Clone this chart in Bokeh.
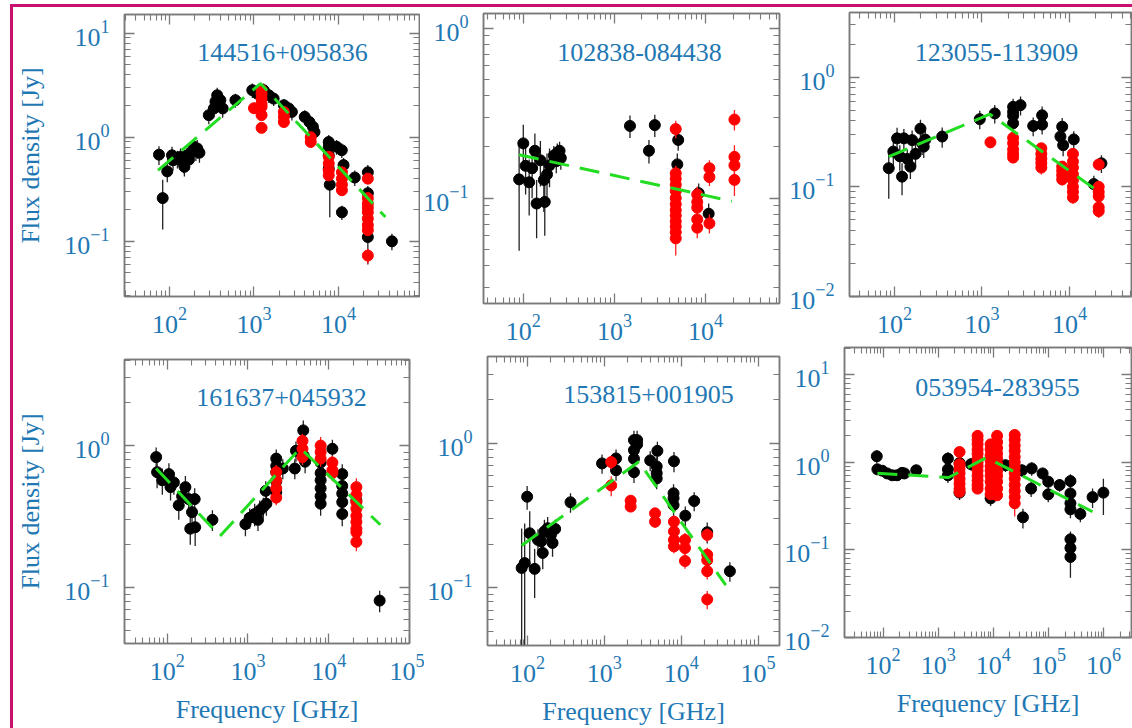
from bokeh.plotting import figure
from bokeh.models import LogAxis, FixedTicker, Label, Spacer, Range1d
from bokeh.layouts import row, column
from bokeh.embed import file_html
from bokeh.resources import INLINE

BLUE = "#1f78b4"
PINK = "#c8106e"
GREEN = "#22dd22"
FRAME = "#7a7a7a"
FONT = "Liberation Serif"

# ---------------- tick values ----------------
MAJOR_TICKS = [1e-2, 1e-1, 1e0, 1e1, 1e2, 1e3, 1e4, 1e5, 1e6, 1e7]
DECADES = [1e-3, 1e-2, 1e-1, 1e0, 1e1, 1e2, 1e3, 1e4, 1e5, 1e6]
MINOR_MULT = [2, 3, 4, 5, 6, 7, 8, 9]
MINOR_TICKS = [m * d for d in DECADES for m in MINOR_MULT]

# ---------------- panel names ----------------
names = ["144516+095836", "102838-084438", "123055-113909",
         "161637+045932", "153815+001905", "053954-283955"]

# ---------------- panel 1 ----------------
p1_bk_f = [75, 83, 94, 107, 110, 124, 135, 147, 150, 161, 170, 177, 195, 205, 213, 226,
           292, 335, 350, 367, 400, 426, 603, 955, 1090, 1300, 1500, 1710, 2260, 2580, 2810,
           3990, 4540, 4990, 5200, 7680, 7680, 7680, 7680, 7900, 9500, 10960, 11500, 11000,
           15600, 22300, 22300, 22300, 43000]
p1_bk_s = [0.68, 0.26, 0.47, 0.67, 0.60, 0.62, 0.65, 0.56, 0.52, 0.67, 0.61, 0.70, 0.81, 0.74, 0.78, 0.71,
           1.63, 1.89, 2.2, 2.53, 2.27, 1.89, 2.27, 2.83, 2.63, 2.83, 2.53, 2.35, 2.03, 1.89, 1.75,
           1.57, 1.40, 1.26, 1.12, 0.90, 0.81, 0.67, 0.50, 0.35, 0.81, 0.75, 0.54, 0.19,
           0.41, 0.46, 0.29, 0.11, 0.10]
p1_bk_e = [0.14, 0.13, 0.1, 0.14, 0.12, 0.12, 0.13, 0.11, 0.1, 0.13, 0.12, 0.14, 0.16, 0.15, 0.16, 0.14,
           0.3, 0.35, 0.4, 0.45, 0.4, 0.35, 0.35, 0.45, 0.4, 0.45, 0.4, 0.35, 0.3, 0.3, 0.3,
           0.25, 0.22, 0.2, 0.18, 0.15, 0.13, 0.11, 0.08, 0.18, 0.13, 0.12, 0.09, 0.03,
           0.07, 0.08, 0.05, 0.05, 0.018]
p1_rd_f = [1230, 1230, 1230, 1230, 1230, 1230, 1230, 1000, 2260, 2260, 2260, 4700, 4700,
           7680, 7680, 7680, 7680, 11000, 11000, 11000, 11000,
           22300, 22300, 22300, 22300, 22300, 22300, 22300, 22300, 22300]
p1_rd_s = [2.83, 2.6, 2.35, 2.1, 1.96, 1.63, 1.23, 1.9, 1.75, 1.57, 1.40, 1.0, 0.9,
           0.65, 0.56, 0.48, 0.43, 0.46, 0.40, 0.35, 0.31,
           0.40, 0.26, 0.23, 0.21, 0.19, 0.165, 0.143, 0.128, 0.073]
p1_rd_e = [0.3, 0.3, 0.25, 0.25, 0.2, 0.18, 0.13, 0.2, 0.18, 0.17, 0.15, 0.11, 0.1,
           0.07, 0.06, 0.05, 0.05, 0.05, 0.045, 0.04, 0.035,
           0.045, 0.03, 0.025, 0.023, 0.02, 0.018, 0.016, 0.014, 0.012]
p1_fit_f = [73, 1195, 36000]
p1_fit_s = [0.48, 3.28, 0.171]

# ---------------- panel 2 ----------------
p2_bk_f = [90, 100, 106, 116, 125, 134, 140, 154, 168, 172, 182, 194, 216, 230, 236, 250, 258,
           1480, 2770, 2390, 5000, 4890, 8400, 10800]
p2_bk_s = [0.129, 0.21, 0.155, 0.124, 0.15, 0.19, 0.093, 0.167, 0.128, 0.095, 0.138, 0.156,
           0.178, 0.165, 0.185, 0.19, 0.172, 0.266, 0.269, 0.19, 0.22, 0.158, 0.107, 0.081]
p2_bk_e = [0.08, 0.06, 0.05, 0.045, 0.05, 0.05, 0.035, 0.05, 0.045, 0.035, 0.045, 0.04,
           0.025, 0.025, 0.025, 0.025, 0.025, 0.04, 0.04, 0.03, 0.03, 0.025, 0.015, 0.012]
p2_rd_f = [4700, 4700, 4700, 4700, 4700, 4700, 4700, 4700, 4700, 4700, 4700, 4700, 4700,
           8090, 8090, 8090, 8090, 8090,
           11000, 11000, 11000,
           20700, 20700, 20700, 20700]
p2_rd_s = [0.255, 0.14, 0.13, 0.12, 0.11, 0.10, 0.092, 0.085, 0.079, 0.073, 0.068, 0.063, 0.058,
           0.105, 0.095, 0.088, 0.075, 0.067,
           0.15, 0.133, 0.071,
           0.29, 0.175, 0.156, 0.128]
p2_rd_e = [0.03, 0.015, 0.014, 0.013, 0.012, 0.011, 0.01, 0.009, 0.009, 0.008, 0.008, 0.008, 0.012,
           0.012, 0.011, 0.01, 0.009, 0.009,
           0.017, 0.015, 0.009,
           0.04, 0.03, 0.025, 0.025]
p2_fit_f = [90, 19400]
p2_fit_s = [0.18, 0.096]

# ---------------- panel 3 ----------------
p3_bk_f = [86, 97, 107, 115, 122, 128, 140, 152, 159, 174, 198, 207, 216, 225, 351, 944, 1400,
           2270, 2270, 2270, 2270, 2760, 3850, 4870, 4870, 8260, 7890, 8470, 11200, 19000, 23200]
p3_bk_s = [0.148, 0.21, 0.277, 0.19, 0.124, 0.277, 0.18, 0.153, 0.267, 0.20, 0.34, 0.25, 0.233,
           0.27, 0.288, 0.415, 0.468, 0.537, 0.484, 0.445, 0.38, 0.557, 0.36, 0.45, 0.37, 0.354,
           0.288, 0.24, 0.271, 0.106, 0.164]
p3_bk_e = [0.07, 0.06, 0.07, 0.05, 0.04, 0.06, 0.04, 0.035, 0.06, 0.045, 0.07, 0.055, 0.05,
           0.06, 0.06, 0.08, 0.09, 0.1, 0.09, 0.09, 0.07, 0.11, 0.07, 0.09, 0.07, 0.07,
           0.05, 0.05, 0.05, 0.02, 0.03]
p3_rd_f = [1250,
           2270, 2270, 2270, 2270, 2270,
           4770, 4770, 4770, 4770, 4770,
           8260, 8260, 8260, 8260,
           10960, 10960, 10960, 10960, 10960, 10960, 10960, 10960,
           21600, 21600, 21600, 21600, 21600, 21600]
p3_rd_s = [0.255,
           0.28, 0.25, 0.22, 0.20, 0.185,
           0.225, 0.20, 0.18, 0.165, 0.15,
           0.153, 0.14, 0.128, 0.117,
           0.20, 0.17, 0.15, 0.13, 0.115, 0.10, 0.09, 0.08,
           0.16, 0.10, 0.09, 0.082, 0.065, 0.06]
p3_rd_e = [0.03,
           0.03, 0.03, 0.025, 0.025, 0.02,
           0.025, 0.025, 0.02, 0.02, 0.02,
           0.018, 0.016, 0.015, 0.014,
           0.025, 0.02, 0.018, 0.016, 0.014, 0.012, 0.011, 0.01,
           0.02, 0.012, 0.011, 0.01, 0.008, 0.008]
p3_fit_f = [86, 1230, 22600]
p3_fit_s = [0.189, 0.46, 0.088]

# ---------------- panel 4 ----------------
p4_bk_f = [73, 75, 87, 105, 110, 121, 139, 153, 168, 185, 203, 219, 193, 222, 363,
           930, 1050, 1210, 1330, 1400, 1550, 1690, 1660,
           2240, 2240, 2240, 2240, 2240, 2700, 3800, 3930, 4840, 4900, 5100,
           7940, 7940, 7940, 7940, 7940, 7940, 11100,
           14700, 14700, 14700, 14700, 14700, 22000, 42700]
p4_bk_s = [0.83, 0.65, 0.57, 0.63, 0.51, 0.55, 0.38, 0.44, 0.51, 0.42, 0.34, 0.42, 0.26, 0.266, 0.30,
           0.28, 0.31, 0.33, 0.30, 0.35, 0.37, 0.39, 0.48,
           0.81, 0.72, 0.65, 0.56, 0.47, 0.69, 0.69, 0.92, 1.28, 0.85, 0.77,
           0.76, 0.64, 0.57, 0.50, 0.44, 0.39, 0.95,
           0.63, 0.52, 0.46, 0.40, 0.33, 0.41, 0.081]
p4_bk_e = [0.14, 0.15, 0.12, 0.12, 0.1, 0.1, 0.08, 0.08, 0.1, 0.08, 0.07, 0.08, 0.06, 0.07, 0.05,
           0.05, 0.05, 0.06, 0.05, 0.06, 0.06, 0.07, 0.08,
           0.13, 0.12, 0.11, 0.1, 0.08, 0.11, 0.11, 0.15, 0.22, 0.14, 0.13,
           0.13, 0.11, 0.1, 0.09, 0.08, 0.07, 0.15,
           0.11, 0.09, 0.08, 0.07, 0.06, 0.07, 0.014]
p4_rd_f = [2240, 2240, 2240, 2240,
           4730, 4730, 4730,
           7940, 7940, 7940,
           11100, 11100, 11100,
           22000, 22000, 22000, 22000, 22000, 22000, 22000, 22000, 22000]
p4_rd_s = [0.65, 0.57, 0.50, 0.43,
           1.08, 0.95, 0.83,
           1.0, 0.90, 0.81,
           0.76, 0.67, 0.64,
           0.51, 0.45, 0.40, 0.36, 0.32, 0.29, 0.26, 0.245, 0.21]
p4_rd_e = [0.08, 0.07, 0.06, 0.05,
           0.13, 0.11, 0.1,
           0.15, 0.11, 0.1,
           0.09, 0.08, 0.08,
           0.08, 0.05, 0.05, 0.045, 0.04, 0.035, 0.03, 0.03, 0.03]
p4_fit_f = [73, 451, 4450, 43500]
p4_fit_s = [0.69, 0.231, 0.96, 0.277]

# ---------------- panel 5 ----------------
p5_bk_f = [84, 92, 99, 107, 124, 137, 151, 158, 166, 183, 202, 212, 229, 363, 934,
           1420, 1420, 2430, 2430, 2430, 2430, 2670, 2670, 3950, 4900, 4800, 4800, 4800,
           8050, 7950, 7950, 7950, 11300, 14750, 21800, 43000]
p5_bk_s = [0.137, 0.148, 0.426, 0.238, 0.135, 0.214, 0.209, 0.174, 0.245, 0.258, 0.232, 0.204,
           0.255, 0.39, 0.724, 0.784, 0.65, 1.05, 0.895, 0.78, 0.63, 1.05, 0.98, 0.76, 0.885,
           0.69, 0.62, 0.57, 0.75, 0.45, 0.416, 0.373, 0.315, 0.398, 0.242, 0.13]
p5_bk_e = [0.12, 0.13, 0.08, 0.1, 0.05, 0.04, 0.04, 0.04, 0.05, 0.05, 0.04, 0.04,
           0.04, 0.06, 0.11, 0.12, 0.1, 0.17, 0.14, 0.12, 0.1, 0.17, 0.15, 0.12, 0.14,
           0.11, 0.1, 0.09, 0.12, 0.07, 0.07, 0.06, 0.05, 0.06, 0.04, 0.02]
p5_rd_f = [1228, 1228, 2200, 2200, 4570, 4570, 8050, 8050, 8050, 8050,
           11200, 11200, 11200, 21800, 21800, 21800, 21800, 21800]
p5_rd_s = [0.74, 0.51, 0.40, 0.364, 0.327, 0.286, 0.286, 0.245, 0.214, 0.193,
           0.214, 0.188, 0.153, 0.232, 0.169, 0.155, 0.13, 0.083]
p5_rd_e = [0.08, 0.08, 0.03, 0.03, 0.025, 0.025, 0.03, 0.025, 0.02, 0.02,
           0.025, 0.02, 0.018, 0.025, 0.02, 0.018, 0.016, 0.012]
p5_fit_f = [84, 2810, 38000]
p5_fit_s = [0.196, 0.743, 0.104]

# ---------------- panel 6 ----------------
p6_bk_f = [77, 79, 97, 119, 147, 180, 221, 244, 400, 1500, 1500, 1500, 2440, 2440,
           3940, 9600, 8920, 16600, 33000, 34400, 49600, 48400, 78200, 99000, 99000, 159000,
           250000, 250000, 250000, 250000, 250000, 250000, 250000, 378000, 630000, 990000]
p6_bk_s = [1.17, 0.83, 0.80, 0.745, 0.71, 0.71, 0.756, 0.745, 0.81, 1.10, 0.83, 0.71, 0.98, 0.45,
           0.95, 1.43, 0.387, 0.925, 0.81, 0.235, 0.85, 0.50, 0.745, 0.43, 0.60, 0.55,
           0.61, 0.44, 0.34, 0.29, 0.132, 0.105, 0.083, 0.257, 0.40, 0.45]
p6_bk_e = [0.2, 0.1, 0.08, 0.07, 0.07, 0.07, 0.07, 0.07, 0.12, 0.2, 0.15, 0.13, 0.17, 0.08,
           0.15, 0.25, 0.07, 0.15, 0.13, 0.06, 0.15, 0.1, 0.12, 0.08, 0.1, 0.09,
           0.12, 0.08, 0.06, 0.06, 0.03, 0.025, 0.035, 0.05, 0.1, 0.2]
p6_rd_f = [2440, 2440, 2440, 2440, 2440, 2440, 2440, 2440,
           5180, 5180, 5180, 5180, 5180, 5180, 5180, 5180, 5180, 5180, 5180, 5180, 5180,
           8920, 8920, 8920, 8920, 8920, 8920, 8920, 8920, 8920, 8920,
           11700, 11700, 11700, 11700, 11700, 11700, 11700, 11700, 11700, 11700, 11700,
           24400, 24400, 24400, 24400, 24400, 24400, 24400, 24400, 24400, 24400, 24400, 24400, 24400]
p6_rd_s = [1.31, 0.95, 0.85, 0.75, 0.65, 0.57, 0.50, 0.46,
           2.0, 1.8, 1.6, 1.4, 1.25, 1.1, 1.0, 0.9, 0.8, 0.7, 0.62, 0.55, 0.50,
           1.6, 1.4, 1.2, 1.05, 0.9, 0.8, 0.7, 0.6, 0.5, 0.43,
           2.0, 1.7, 1.45, 1.25, 1.1, 0.95, 0.8, 0.7, 0.6, 0.5, 0.42,
           2.05, 1.8, 1.55, 1.35, 1.15, 1.0, 0.87, 0.75, 0.65, 0.55, 0.47, 0.40, 0.34]
p6_rd_e = [0.12, 0.09, 0.08, 0.07, 0.06, 0.05, 0.05, 0.04,
           0.2, 0.18, 0.16, 0.14, 0.12, 0.11, 0.1, 0.09, 0.08, 0.07, 0.06, 0.05, 0.05,
           0.16, 0.14, 0.12, 0.1, 0.09, 0.08, 0.07, 0.06, 0.05, 0.04,
           0.2, 0.17, 0.14, 0.12, 0.11, 0.09, 0.08, 0.07, 0.06, 0.05, 0.04,
           0.3, 0.18, 0.15, 0.13, 0.11, 0.1, 0.09, 0.08, 0.07, 0.06, 0.05, 0.04, 0.1]
p6_fit_f = [79, 1550, 7500, 630000]
p6_fit_s = [0.75, 0.67, 1.13, 0.272]

# ---------------- layout (sizes / borders / ranges / title positions) ----------------
# size = (width, height, border_left, border_right, border_top, border_bottom)
cfgs = [
    dict(size=(407, 337, 111, 1, 7, 48), xr=(29.3, 91200), yr=(0.0295, 15.1), tx=158, ty=244),
    dict(size=(362, 337, 61, 3, 6, 41), xr=(36.6, 64600), yr=(0.024, 1.22), tx=156, ty=251),
    dict(size=(350, 337, 67, 1, 5, 48), xr=(30.6, 51200), yr=(0.00999, 3.9), tx=147, ty=244),
    dict(size=(411, 384, 109, 15, 15, 85), xr=(29.6, 100010), yr=(0.0404, 4.04), tx=157, ty=246),
    dict(size=(357, 384, 56, 2, 12, 82), xr=(30.2, 190000), yr=(0.0398, 3.98), tx=161, ty=251),
    dict(size=(351, 384, 59, 1, 3, 91), xr=(20.0, 3.2e6), yr=(0.00999, 20.4), tx=153, ty=250),
]

datasets = [
    (p1_bk_f, p1_bk_s, p1_bk_e, p1_rd_f, p1_rd_s, p1_rd_e, p1_fit_f, p1_fit_s),
    (p2_bk_f, p2_bk_s, p2_bk_e, p2_rd_f, p2_rd_s, p2_rd_e, p2_fit_f, p2_fit_s),
    (p3_bk_f, p3_bk_s, p3_bk_e, p3_rd_f, p3_rd_s, p3_rd_e, p3_fit_f, p3_fit_s),
    (p4_bk_f, p4_bk_s, p4_bk_e, p4_rd_f, p4_rd_s, p4_rd_e, p4_fit_f, p4_fit_s),
    (p5_bk_f, p5_bk_s, p5_bk_e, p5_rd_f, p5_rd_s, p5_rd_e, p5_fit_f, p5_fit_s),
    (p6_bk_f, p6_bk_s, p6_bk_e, p6_rd_f, p6_rd_s, p6_rd_e, p6_fit_f, p6_fit_s),
]
ylabels = ["Flux density [Jy]", None, None, "Flux density [Jy]", None, None]
xlabels = [None, None, None, "Frequency [GHz]", "Frequency [GHz]", "Frequency [GHz]"]


def style_axis(ax, labels):
    ax.ticker = FixedTicker(ticks=MAJOR_TICKS, minor_ticks=MINOR_TICKS)
    ax.axis_line_color = FRAME
    ax.axis_line_width = 1.5
    ax.major_tick_line_color = FRAME
    ax.minor_tick_line_color = FRAME
    ax.major_tick_line_width = 1.3
    ax.minor_tick_line_width = 1.1
    ax.major_tick_in = 10
    ax.major_tick_out = 0
    ax.minor_tick_in = 6
    ax.minor_tick_out = 0
    ax.major_label_text_font = FONT
    if labels:
        ax.major_label_text_font_size = "26px"
        ax.major_label_text_color = BLUE
    else:
        ax.major_label_text_font_size = "1px"
        ax.major_label_text_alpha = 0
        ax.major_label_standoff = 0


def lo_hi(s, e):
    lo = [max(v - d, 1e-4) for v, d in zip(s, e)]
    hi = [v + d for v, d in zip(s, e)]
    return lo, hi


def build(cfg, data, name, ylab, xlab):
    w, h, bl, br, bt, bb = cfg["size"]
    p = figure(width=w, height=h, x_axis_type="log", y_axis_type="log",
               x_range=Range1d(*cfg["xr"]), y_range=Range1d(*cfg["yr"]),
               output_backend="svg", toolbar_location=None,
               min_border_left=bl, min_border_right=br,
               min_border_top=bt, min_border_bottom=bb)
    p.background_fill_color = "white"
    p.border_fill_color = "white"
    p.outline_line_color = FRAME
    p.outline_line_width = 1.5
    p.xgrid.visible = False
    p.ygrid.visible = False

    left = p.left[0]
    bottom = p.below[0]
    style_axis(left, True)
    style_axis(bottom, True)
    left.major_label_standoff = 15
    bottom.major_label_standoff = 11
    if ylab:
        left.axis_label = ylab
        left.axis_label_text_font = FONT
        left.axis_label_text_font_size = "26px"
        left.axis_label_text_font_style = "normal"
        left.axis_label_text_color = BLUE
        left.axis_label_standoff = 16
    if xlab:
        bottom.axis_label = xlab
        bottom.axis_label_text_font = FONT
        bottom.axis_label_text_font_size = "26px"
        bottom.axis_label_text_font_style = "normal"
        bottom.axis_label_text_color = BLUE
        bottom.axis_label_standoff = 12

    right = LogAxis()
    style_axis(right, False)
    p.add_layout(right, "right")
    top = LogAxis()
    style_axis(top, False)
    p.add_layout(top, "above")

    bk_f, bk_s, bk_e, rd_f, rd_s, rd_e, fit_f, fit_s = data
    lo, hi = lo_hi(bk_s, bk_e)
    p.segment(x0=bk_f, y0=lo, x1=bk_f, y1=hi, line_color="#222222", line_width=1.3)
    p.scatter(x=bk_f, y=bk_s, size=11, marker="circle", fill_color="black", line_color="black")
    lo, hi = lo_hi(rd_s, rd_e)
    p.segment(x0=rd_f, y0=lo, x1=rd_f, y1=hi, line_color="#ff2020", line_width=1.3)
    p.scatter(x=rd_f, y=rd_s, size=11, marker="circle", fill_color="#ff0000", line_color="#ff0000")
    p.line(x=fit_f, y=fit_s, line_color=GREEN, line_width=3, line_dash="20 11")

    p.add_layout(Label(x=cfg["tx"], y=cfg["ty"], x_units="screen", y_units="screen", text=name,
                       text_font=FONT, text_font_size="26px", text_color=BLUE,
                       text_align="center", text_baseline="middle"))
    return p


figs = [build(c, d, n, yl, xl) for c, d, n, yl, xl in zip(cfgs, datasets, names, ylabels, xlabels)]

# each plot in its own column so the rows do not align the plot frames
row1 = row(column(figs[0]), column(figs[1]), column(figs[2]))
row2 = row(column(figs[3]), column(figs[4]), column(figs[5]))
inner = column(Spacer(width=1119, height=3, styles={"background-color": PINK}), row1, row2)
body = row(Spacer(width=10, height=724),
           Spacer(width=3, height=724, styles={"background-color": PINK}),
           inner)
root = column(Spacer(width=1132, height=4), body)

open("out.html", "w").write(file_html(root, INLINE))
